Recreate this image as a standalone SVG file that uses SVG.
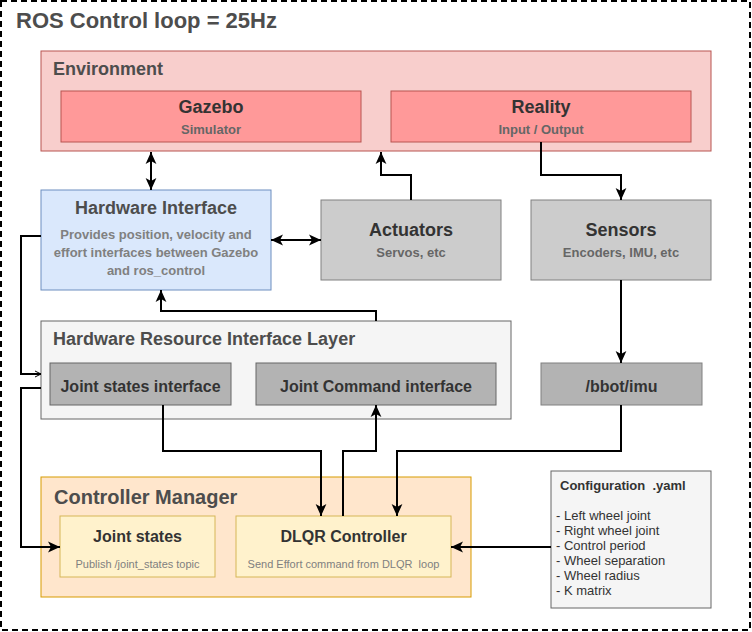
<svg xmlns="http://www.w3.org/2000/svg" width="752" height="632" viewBox="0 0 752 632">
<style>
text{font-family:"Liberation Sans",Arial,sans-serif}
.b{font-weight:bold}
.h{fill:#4d4d4d;font-weight:bold}
.t{fill:#333333;font-weight:bold;text-anchor:middle}
.s{fill:#666666;font-weight:bold;text-anchor:middle;font-size:13px}
.d{fill:#808080;font-weight:bold;text-anchor:middle;font-size:13px}
.n{fill:#808080;text-anchor:middle;font-size:11px}
.c{fill:#333333;font-size:13px}
.conn path{fill:none;stroke:#000;stroke-width:2}
</style>
<defs>
<marker id="a" viewBox="0 0 12 12" refX="12" refY="6" markerWidth="12" markerHeight="12" markerUnits="userSpaceOnUse" orient="auto-start-reverse">
<path d="M0,0.6 L12,6 L0,11.4 L3,6 Z" fill="#000"/>
</marker>
<marker id="o" viewBox="0 0 8 8" refX="7" refY="4" markerWidth="8" markerHeight="8" markerUnits="userSpaceOnUse" orient="auto">
<path d="M1,1 L7,4 L1,7" fill="none" stroke="#000" stroke-width="1"/>
</marker>
</defs>
<rect x="1" y="1" width="749" height="629" fill="#ffffff" stroke="#000" stroke-width="2" stroke-dasharray="6 4"/>
<text x="16" y="28" class="h" style="font-size:22px">ROS Control loop = 25Hz</text>

<g id="environment">
<rect x="41" y="51" width="670" height="100" fill="#f8cecc" stroke="#b85450"/>
<text x="53" y="75" class="h" style="font-size:18px">Environment</text>
</g>
<g id="gazebo">
<rect x="61" y="91" width="300" height="51" fill="#ff9999" stroke="#b85450"/>
<text x="211" y="113" class="t" style="font-size:18px">Gazebo</text>
<text x="211" y="134" class="s">Simulator</text>
</g>
<g id="reality">
<rect x="391" y="91" width="300" height="51" fill="#ff9999" stroke="#b85450"/>
<text x="541" y="113" class="t" style="font-size:18px">Reality</text>
<text x="541" y="134" class="s">Input / Output</text>
</g>
<g id="hardware-interface">
<rect x="41" y="190" width="230" height="100" fill="#dae8fc" stroke="#6c8ebf"/>
<text x="156" y="214" class="t" style="font-size:18px;fill:#4d4d4d">Hardware Interface</text>
<text x="156" y="239" class="d">Provides position, velocity and</text>
<text x="156" y="257" class="d">effort interfaces between Gazebo</text>
<text x="156" y="275" class="d">and ros_control</text>
</g>
<g id="actuators">
<rect x="321" y="200" width="180" height="80" fill="#cccccc" stroke="#808080"/>
<text x="411" y="236" class="t" style="font-size:18px">Actuators</text>
<text x="411" y="257" class="s">Servos, etc</text>
</g>
<g id="sensors">
<rect x="531" y="200" width="180" height="80" fill="#cccccc" stroke="#808080"/>
<text x="621" y="236" class="t" style="font-size:18px">Sensors</text>
<text x="621" y="257" class="s">Encoders, IMU, etc</text>
</g>
<g id="hw-resource-layer">
<rect x="41" y="321" width="470" height="98" fill="#f5f5f5" stroke="#666666"/>
<text x="53" y="345" class="h" style="font-size:18px">Hardware Resource Interface Layer</text>
</g>
<g id="joint-states-interface">
<rect x="50" y="363" width="181" height="42" fill="#b3b3b3" stroke="#666666"/>
<text x="140.5" y="392" class="t" style="font-size:16px">Joint states interface</text>
</g>
<g id="joint-command-interface">
<rect x="256" y="363" width="240" height="42" fill="#b3b3b3" stroke="#666666"/>
<text x="376" y="392" class="t" style="font-size:16px">Joint Command interface</text>
</g>
<g id="imu">
<rect x="541" y="363" width="161" height="42" fill="#b3b3b3" stroke="#808080"/>
<text x="621.5" y="392" class="t" style="font-size:16px">/bbot/imu</text>
</g>
<g id="controller-manager">
<rect x="41" y="477" width="430" height="120" fill="#ffe6cc" stroke="#d79b00"/>
<text x="54" y="504" class="h" style="font-size:20px">Controller Manager</text>
</g>
<g id="joint-states">
<rect x="60" y="516" width="155" height="61" fill="#fff2cc" stroke="#d6b656"/>
<text x="137.5" y="542" class="t" style="font-size:16px">Joint states</text>
<text x="137.5" y="568" class="n">Publish /joint_states topic</text>
</g>
<g id="dlqr-controller">
<rect x="236" y="516" width="215" height="61" fill="#fff2cc" stroke="#d6b656"/>
<text x="343.5" y="542" class="t" style="font-size:16px">DLQR Controller</text>
<text x="343.5" y="568" class="n" xml:space="preserve">Send Effort command from DLQR  loop</text>
</g>
<g id="configuration">
<rect x="551" y="471" width="160" height="137" fill="#f5f5f5" stroke="#666666"/>
<text x="560" y="490" class="c b" xml:space="preserve">Configuration  .yaml</text>
<text x="556" y="520" class="c">- Left wheel joint</text>
<text x="556" y="535" class="c">- Right wheel joint</text>
<text x="556" y="550" class="c">- Control period</text>
<text x="556" y="565" class="c">- Wheel separation</text>
<text x="556" y="580" class="c">- Wheel radius</text>
<text x="556" y="595" class="c">- K matrix</text>
</g>

<g id="connectors" class="conn">
<path d="M151,152 V190" marker-start="url(#a)" marker-end="url(#a)"/>
<path d="M271,240 H321" marker-start="url(#a)" marker-end="url(#a)"/>
<path d="M411,200 V175 H381 V152" marker-end="url(#a)"/>
<path d="M541,142 V175 H621 V200" marker-end="url(#a)"/>
<path d="M621,280 V363" marker-end="url(#a)"/>
<path d="M376,321 V311 H161 V290" marker-end="url(#a)"/>
<path d="M41,236 H21 V374 H41" marker-end="url(#o)"/>
<path d="M41,388 H21 V547 H60" marker-end="url(#a)"/>
<path d="M163,405 V451 H321 V516" marker-end="url(#a)"/>
<path d="M343,516 V451 H376 V405" marker-end="url(#a)"/>
<path d="M621,405 V451 H397 V516" marker-end="url(#a)"/>
<path d="M551,547 H451" marker-end="url(#a)"/>
</g>
</svg>
